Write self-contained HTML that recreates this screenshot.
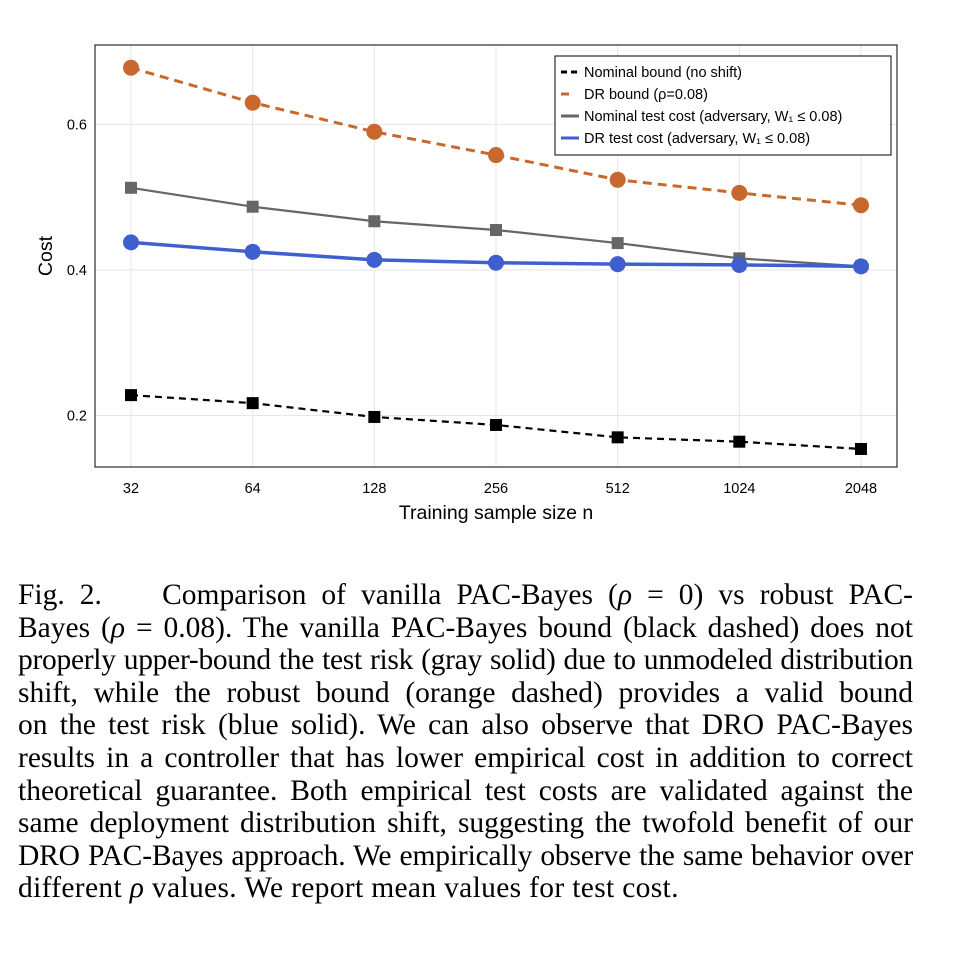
<!DOCTYPE html>
<html><head><meta charset="utf-8"><style>
body{margin:0;background:#fff;width:980px;height:958px;overflow:hidden}
svg text{font-family:"Liberation Sans",sans-serif}
#caption{position:absolute;left:18px;top:579px;width:895px;font-family:"Liberation Serif",serif;font-size:29.5px;line-height:32.6px;color:#000}
#caption div{text-align:justify;text-align-last:justify;white-space:nowrap;height:32.6px}
#caption div.last{text-align-last:left;letter-spacing:0.33px}
#caption div.tight{letter-spacing:-0.28px}
#caption div.tight2{letter-spacing:-0.15px}
</style></head><body>
<svg id="chart" width="980" height="560" style="position:absolute;left:0;top:0"></svg>
<div id="caption">
<div>Fig. 2.&nbsp;&nbsp;&nbsp; Comparison of vanilla PAC-Bayes (<i>ρ</i> = 0) vs robust PAC-</div>
<div>Bayes (<i>ρ</i> = 0.08). The vanilla PAC-Bayes bound (black dashed) does not</div>
<div class="tight">properly upper-bound the test risk (gray solid) due to unmodeled distribution</div>
<div>shift, while the robust bound (orange dashed) provides a valid bound</div>
<div>on the test risk (blue solid). We can also observe that DRO PAC-Bayes</div>
<div>results in a controller that has lower empirical cost in addition to correct</div>
<div>theoretical guarantee. Both empirical test costs are validated against the</div>
<div>same deployment distribution shift, suggesting the twofold benefit of our</div>
<div class="tight2">DRO PAC-Bayes approach. We empirically observe the same behavior over</div>
<div class="last">different <i>ρ</i> values. We report mean values for test cost.</div>
</div>
<script>
const categories=[32,64,128,256,512,1024,2048];
const drBound=[0.678,0.630,0.590,0.558,0.524,0.506,0.489];
const nominalTest=[0.513,0.487,0.467,0.455,0.437,0.416,0.405];
const drTest=[0.438,0.425,0.414,0.410,0.408,0.407,0.405];
const nominalBound=[0.228,0.217,0.198,0.187,0.170,0.164,0.154];
const yTicks=[0.2,0.4,0.6];
const NS="http://www.w3.org/2000/svg";
const svg=document.getElementById('chart');
const L=95,R=897,T=45,B=467;
function x(i){return 131+i*(861-131)/(categories.length-1);}
function y(v){return 270-(v-0.4)*727.5;}
function mk(tag,attrs,parent){const e=document.createElementNS(NS,tag);for(const k in attrs)e.setAttribute(k,attrs[k]);(parent||svg).appendChild(e);return e;}
yTicks.forEach(v=>{const g=mk('line',{x1:L,x2:R,y1:y(v),y2:y(v),stroke:'#e6e6e6'});


const t=mk('text',{x:L-8,y:y(v)+5,'text-anchor':'end','font-size':14.5});t.textContent=v.toFixed(1);

});
categories.forEach((c,i)=>{const g=mk('line',{x1:x(i),x2:x(i),y1:T,y2:B,stroke:'#e6e6e6'});


const t=mk('text',{x:x(i),y:B+26,'text-anchor':'middle','font-size':14.5});t.textContent=c;

});
const frame=mk('rect',{x:L,y:T,width:R-L,height:B-T,fill:'none',stroke:'#000','stroke-width':1});


const xt=mk('text',{x:496,y:519,'text-anchor':'middle','font-size':19.5});xt.textContent='Training sample size  n';


const yt=mk('text',{x:52,y:256,'text-anchor':'middle','font-size':19.5,transform:'rotate(-90 52 256)'});yt.textContent='Cost';


function series(vals,color,width,dash,marker,name){
  const pts=vals.map((v,i)=>x(i)+','+y(v)).join(' ');
  const pl=mk('polyline',{points:pts,fill:'none',stroke:color,'stroke-width':width,'stroke-dasharray':dash||'none'});
  
  
  vals.forEach((v,i)=>{let m;
    if(marker==='circle')m=mk('circle',{cx:x(i),cy:y(v),r:8,fill:color});
    else m=mk('rect',{x:x(i)-6,y:y(v)-6,width:12,height:12,fill:color});
    
    });
}
series(drBound,'#c8682d',3,'9,6','circle','dr-bound');
series(nominalTest,'#666',2.2,null,'square','nominal-test-cost');
series(drTest,'#3f5fcf',3.5,null,'circle','dr-test-cost');
series(nominalBound,'#000',2.2,'7,5','square','nominal-bound');
const lg=mk('g',{});


mk('rect',{x:555,y:56,width:336,height:99,fill:'#fff',stroke:'#000','stroke-width':1},lg);
const items=[['Nominal bound  (no shift)','#000','6,4'],['DR bound  (ρ=0.08)','#c8682d','8,20'],['Nominal test cost (adversary, W₁ ≤ 0.08)','#666',null],['DR test cost (adversary, W₁ ≤ 0.08)','#3f5fcf',null]];
items.forEach((it,k)=>{const yy=72+k*22;
  const e=mk('g',{},lg);
  
  
  mk('line',{x1:561,x2:579,y1:yy,y2:yy,stroke:it[1],'stroke-width':3,'stroke-dasharray':it[2]||'none'},e);
  const t=mk('text',{x:584,y:yy+5,'font-size':14.5,'xml:space':'preserve'},e);t.textContent=it[0];});
</script>
</body></html>
